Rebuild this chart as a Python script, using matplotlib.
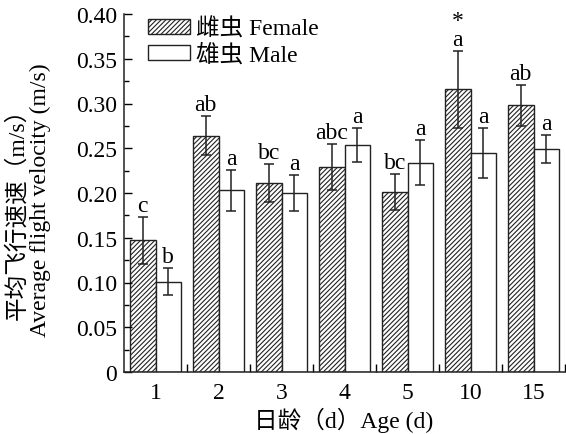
import matplotlib
matplotlib.use("Agg")
import matplotlib.pyplot as plt
import numpy as np
from matplotlib.ticker import MultipleLocator, FixedLocator

plt.rcParams['font.family'] = ['Liberation Serif', 'Noto Sans CJK SC']
plt.rcParams['hatch.linewidth'] = 0.8
plt.rcParams['hatch.color'] = '#333333'

ages = ['1', '2', '3', '4', '5', '10', '15']
female = [0.147, 0.264, 0.211, 0.229, 0.201, 0.316, 0.298]
female_err = [0.026, 0.022, 0.021, 0.026, 0.020, 0.043, 0.023]
male = [0.101, 0.203, 0.200, 0.254, 0.234, 0.245, 0.249]
male_err = [0.015, 0.023, 0.020, 0.019, 0.025, 0.028, 0.016]
female_labels = ['c', 'ab', 'bc', 'abc', 'bc', '*\na', 'ab']
male_labels = ['b', 'a', 'a', 'a', 'a', 'a', 'a']

W, H = 566, 435
fig = plt.figure(figsize=(W/100, H/100), dpi=100)
ax = fig.add_axes([124/W, 1-373/H, 441/W, 358/H])

x = np.arange(len(ages))
w = 0.405
fs = 17

ekw = dict(ecolor='#222222', elinewidth=1.1, capsize=3.5, capthick=1.1)
bf = ax.bar(x - w/2, female, w, yerr=female_err, color='white', edgecolor='#222222',
            hatch='///////', linewidth=1.0, label='雌虫 Female', error_kw=ekw)
bm = ax.bar(x + w/2, male, w, yerr=male_err, color='white', edgecolor='#222222',
            linewidth=1.0, label='雄虫 Male', error_kw=ekw)

for xi, v, e, t in zip(x - w/2, female, female_err, female_labels):
    ax.text(xi, v + e + 0.001, t, ha='center', va='bottom', fontsize=fs, linespacing=0.85)
for xi, v, e, t in zip(x + w/2, male, male_err, male_labels):
    ax.text(xi, v + e + 0.001, t, ha='center', va='bottom', fontsize=fs)

ax.set_xlim(-0.5, 6.5)
ax.set_ylim(0, 0.40)
ax.set_xticks(x)
ax.set_xticklabels(ages, fontsize=fs)
ax.xaxis.set_minor_locator(FixedLocator(np.arange(0.5, 7.0, 1.0)))
ax.tick_params(axis='x', which='major', length=0, pad=7)
ax.tick_params(axis='x', which='minor', direction='in', length=6, width=1)

ax.set_yticks(np.arange(0, 0.401, 0.05))
ax.yaxis.set_minor_locator(MultipleLocator(0.025))
ax.set_yticklabels(['0'] + ['%.2f' % v for v in np.arange(0.05, 0.401, 0.05)], fontsize=fs)
ax.tick_params(axis='y', which='major', direction='in', length=6, width=1, pad=5)
ax.tick_params(axis='y', which='minor', direction='in', length=3.5, width=1)

for s in ['top', 'right']:
    ax.spines[s].set_visible(False)
for s in ['left', 'bottom']:
    ax.spines[s].set_linewidth(1.1)
    ax.spines[s].set_color('#222222')

fig.text(17/W, 1-208/H, '平均飞行速速（m/s）', rotation=90, ha='center', va='center', fontsize=fs)
fig.text(40/W, 1-200/H, 'Average flight velocity (m/s)', rotation=90, ha='center', va='center', fontsize=fs)
fig.text(344/W, 1-420/H, '日龄（d）Age (d)', ha='center', va='center', fontsize=fs)

leg = ax.legend(loc='upper left', bbox_to_anchor=(0.054, 0.99), frameon=False, fontsize=fs,
                handlelength=1.8, handleheight=0.6, handletextpad=0.25, labelspacing=0.15,
                borderaxespad=0.0, borderpad=0.0)

fig.savefig('out.png', dpi=100)
